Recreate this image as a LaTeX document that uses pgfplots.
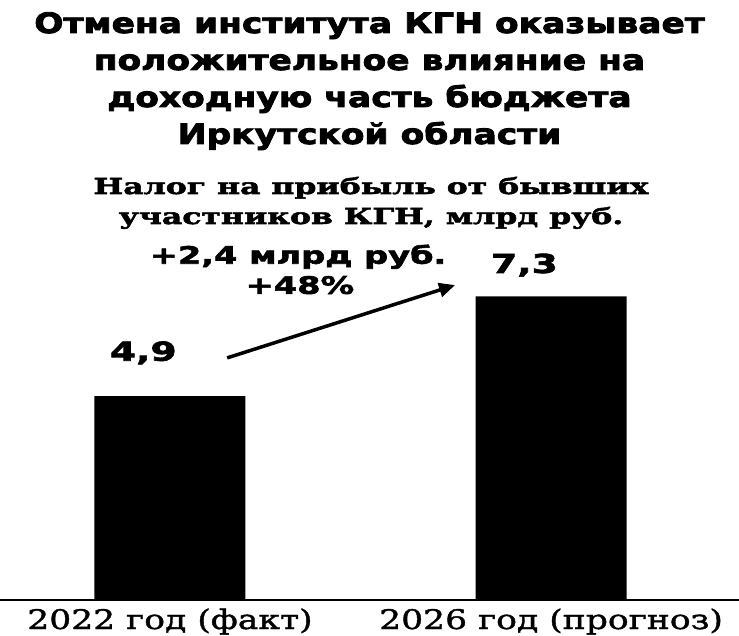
\documentclass[border=0pt]{standalone}
\usepackage{fontspec}
\setmainfont{DejaVu Serif}
\newfontfamily\hfont{DejaVu Sans}
\newfontfamily\titlefont{DejaVu Sans}[FakeStretch=1.23, BoldFeatures={FakeBold=3}]
\newfontfamily\numfont{DejaVu Sans}[FakeStretch=1.45, BoldFeatures={FakeBold=2.5}]
\newfontfamily\annfont{DejaVu Sans}[FakeStretch=1.4, BoldFeatures={FakeBold=2.5}]
\newfontfamily\subfont{DejaVu Serif}[FakeStretch=1.43, BoldFeatures={FakeBold=2.5}]
\newfontfamily\labfont{DejaVu Serif}[FakeStretch=1.28, FakeBold=1.5]
\usepackage{pgfplots}
\pgfplotsset{compat=1.18}
\usetikzlibrary{arrows.meta}
\begin{document}
\begin{tikzpicture}
\path[use as bounding box] (0,0) rectangle (739pt,635pt);
% title
\begin{scope}[every node/.style={anchor=base, inner sep=0pt, font=\titlefont\bfseries\fontsize{28}{34}\selectfont}]
\node at (369.5pt,602pt) {Отмена института КГН оказывает};
\node at (369.5pt,565pt) {положительное влияние на};
\node at (369.5pt,528pt) {доходную часть бюджета};
\node at (369.5pt,491pt) {Иркутской области};
\end{scope}
\begin{scope}[every node/.style={anchor=base, inner sep=0pt, font=\subfont\bfseries\fontsize{22}{27}\selectfont}]
\node at (371pt,441pt) {Налог на прибыль от бывших};
\node at (371pt,411pt) {участников КГН, млрд руб.};
\end{scope}
\begin{axis}[at={(0pt,35pt)}, anchor=south west, scale only axis,
  width=739pt, height=360pt,
  xmin=-0.446, xmax=1.493, ymin=0, ymax=8.654,
  axis x line=bottom, axis y line=none,
  x axis line style={-, line width=1.6pt},
  xtick={0,1}, xticklabels={2022 год (факт), 2026 год (прогноз)},
  major tick length=0pt, ytick=\empty,
  xticklabel style={anchor=base, yshift=-29pt, font=\labfont\fontsize{27}{32}\selectfont, inner sep=0pt},
  ybar, bar width=151pt, clip=false]
\addplot[fill=black, draw=none] coordinates {(0,4.9) (1,7.3)};
\node[font=\numfont\bfseries\fontsize{26}{31}\selectfont] at (axis cs:-0.07,5.94) {4,9};
\node[font=\numfont\bfseries\fontsize{26}{31}\selectfont] at (axis cs:0.93,8.05) {7,3};
\node[font=\annfont\bfseries\fontsize{24}{29}\selectfont] at (axis cs:0.336,8.25) {+2,4 млрд руб.};
\node[font=\annfont\bfseries\fontsize{24}{29}\selectfont] at (axis cs:0.341,7.57) {+48\%};
\draw[-{Triangle[length=16pt,width=14pt]}, line width=3.5pt] (axis cs:0.15,5.82) -- (axis cs:0.748,7.57);
\end{axis}
\end{tikzpicture}
\end{document}
